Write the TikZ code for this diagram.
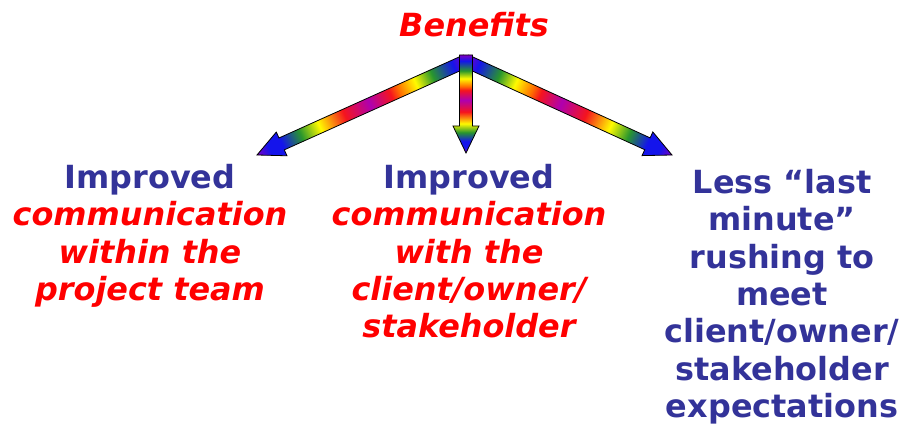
\documentclass[tikz,border=0pt]{standalone}
\usepackage{fontspec}
\setmainfont{DejaVu Sans}
\usepackage{tikz}
\definecolor{myblue}{RGB}{51,51,153}
\definecolor{myred}{RGB}{255,0,0}
% Regenbogenfarben
\definecolor{rbviolet}{RGB}{125,0,195}
\definecolor{rbblue}{RGB}{20,20,235}
\definecolor{rbgreen}{RGB}{40,150,45}
\definecolor{rbyellow}{RGB}{255,250,0}
\definecolor{rborange}{RGB}{255,110,0}
\definecolor{rbred}{RGB}{245,20,30}
\definecolor{rbmagenta}{RGB}{175,0,175}
\usetikzlibrary{calc}
\pgfdeclarehorizontalshading{rainbow}{100bp}{color(0bp)=(rbviolet); color(25bp)=(rbviolet);
  color(28bp)=(rbblue); color(33bp)=(rbgreen); color(37bp)=(rbyellow); color(41bp)=(rborange);
  color(43bp)=(rbred); color(48bp)=(rbmagenta); color(54bp)=(rbred); color(60bp)=(rbyellow);
  color(64.5bp)=(rbgreen); color(69bp)=(rbblue); color(72bp)=(rbblue); color(75bp)=(rbviolet);
  color(100bp)=(rbviolet)}
\tikzstyle{rainbow arrow} = [shading=rainbow, draw=black, line width=0.8bp, line join=miter]
% breiter Pfeil von #1 nach #2
\makeatletter
\newcommand{\fatarrow}[2]{%
  \pgfpointdiff{\pgfpointanchor{#1}{center}}{\pgfpointanchor{#2}{center}}%
  \edef\arrowdx{\the\pgf@x}\edef\arrowdy{\the\pgf@y}%
  \pgfmathsetmacro\arrowlen{veclen(\arrowdx,\arrowdy)}%
  \pgfmathsetmacro\arrowangle{atan2(\arrowdy,\arrowdx)}%
  \begin{scope}[transform canvas={shift={(#1)}, rotate=\arrowangle}]
    \shadedraw[rainbow arrow] (0,-6.5) -- ({\arrowlen pt-27bp},-6.5bp)
      -- ({\arrowlen pt-27bp},-13bp) -- ({\arrowlen pt},0bp)
      -- ({\arrowlen pt-27bp},13bp) -- ({\arrowlen pt-27bp},6.5bp)
      -- (0,6.5) -- cycle;
  \end{scope}
}
\makeatother

\begin{document}
\begin{tikzpicture}[x=1bp, y=1bp,
    bluetxt/.style={text=myblue, font=\fontsize{32}{37.5}\selectfont\bfseries, align=center, inner sep=0pt},
    redtxt/.style={text=myred, font=\fontsize{32}{37.5}\selectfont\bfseries\itshape, align=center, inner sep=0pt}]
  \useasboundingbox (0,0) rectangle (903,-433);
  \node[redtxt, anchor=base] (benefits) at (474,-37) {Benefits};
  %Texte
  \node[redtxt, anchor=north] (team) at (150,-164)
    {{\upshape\color{myblue}Improved}\\communication\\within the\\project team};
  \node[redtxt, anchor=north] (client) at (469,-164)
    {{\upshape\color{myblue}Improved}\\communication\\with the\\client/owner/\\stakeholder};
  \node[bluetxt, anchor=north] (rushing) at (782,-169)
    {Less “last\\minute”\\rushing to\\meet\\client/owner/\\stakeholder\\expectations};
  %Pfeile
  \coordinate (hub) at (466,-61);
  \coordinate (stem) at (466,-55);
  \coordinate (tipL) at (257,-155);
  \coordinate (tipM) at (466,-153);
  \coordinate (tipR) at (672,-155);
  \fatarrow{hub}{tipL}
  \fatarrow{hub}{tipR}
  \fatarrow{stem}{tipM}
\end{tikzpicture}
\end{document}
